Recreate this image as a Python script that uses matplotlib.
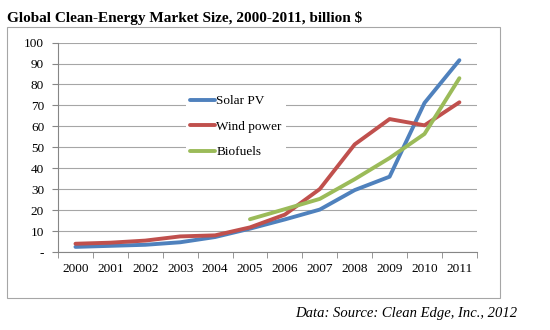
import matplotlib.pyplot as plt
from matplotlib.patches import Rectangle

years = ['2000', '2001', '2002', '2003', '2004', '2005',
         '2006', '2007', '2008', '2009', '2010', '2011']
solar_pv = [2.5, 3.0, 3.5, 4.7, 7.2, 11.2, 15.6, 20.3, 29.6, 36.0, 71.2, 91.6]
wind_power = [4.0, 4.5, 5.5, 7.5, 8.0, 11.8, 17.9, 30.1, 51.4, 63.5, 60.5, 71.5]
biofuels_years = years[5:]
biofuels = [15.7, 20.5, 25.4, 34.8, 44.9, 56.4, 83.0]

serif = ['Liberation Serif', 'DejaVu Serif']

fig = plt.figure(figsize=(5.5, 3.3), dpi=100)
ax = fig.add_axes([0.1055, 0.236, 0.7615, 0.635])

# outer chart frame
fig.patches.append(Rectangle((7/550, 1 - 298/330), 493/550, 271/330,
                             transform=fig.transFigure, fill=False,
                             edgecolor='#a6a6a6', linewidth=0.8))

x = list(range(len(years)))
xb = [years.index(y) for y in biofuels_years]
ax.plot(x, solar_pv, color='#4F81BD', lw=2.8, label='Solar PV', solid_capstyle='round')
ax.plot(x, wind_power, color='#C0504D', lw=2.8, label='Wind power', solid_capstyle='round')
ax.plot(xb, biofuels, color='#9BBB59', lw=2.8, label='Biofuels', solid_capstyle='round')

ax.set_xlim(-0.5, 11.5)
ax.set_ylim(0, 100)
ax.set_yticks(range(0, 101, 10))
ax.set_yticklabels(['-'] + [str(v) for v in range(10, 101, 10)])
ax.set_xticks(x)
ax.set_xticklabels(years)
ax.set_xticks([i - 0.5 for i in range(13)], minor=True)
ax.tick_params(axis='x', which='major', length=0, pad=8)
ax.tick_params(axis='x', which='minor', length=4, color='#868686')
ax.tick_params(axis='y', length=4, color='#868686', pad=6)
for lab in ax.get_xticklabels() + ax.get_yticklabels():
    lab.set_family(serif)
    lab.set_fontsize(9.5)

ax.grid(axis='y', color='#a6a6a6', lw=0.8)
ax.set_axisbelow(True)
for s in ['top', 'right']:
    ax.spines[s].set_visible(False)
for s in ['left', 'bottom']:
    ax.spines[s].set_color('#868686')
    ax.spines[s].set_linewidth(0.8)

leg = ax.legend(loc='upper left', bbox_to_anchor=(0.29, 0.80), frameon=True,
                prop={'family': serif, 'size': 9.5}, handlelength=1.9,
                handletextpad=0.1, labelspacing=1.0, borderpad=0.3)
leg.get_frame().set_edgecolor('none')
leg.get_frame().set_facecolor('white')
leg.get_frame().set_alpha(1)

fig.text(7/550, 1 - 18/330, 'Global Clean-Energy Market Size, 2000-2011, billion $',
         family=serif, fontweight='bold', fontsize=11, va='center', ha='left')
fig.text(517/550, 1 - 313/330, 'Data: Source: Clean Edge, Inc., 2012',
         family=serif, style='italic', fontsize=10.5, va='center', ha='right')

fig.savefig('out.png', dpi=100)
